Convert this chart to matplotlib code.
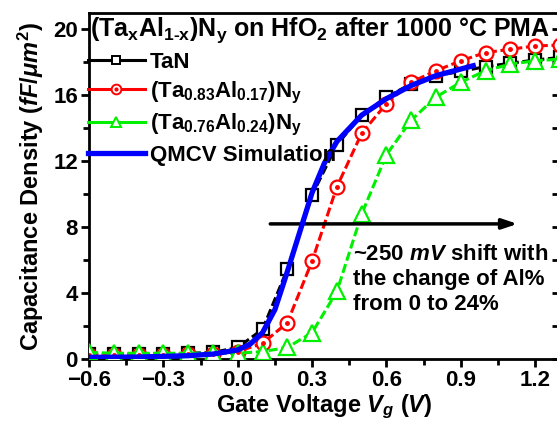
import matplotlib
matplotlib.use("Agg")
import matplotlib.pyplot as plt
from matplotlib.lines import Line2D
from matplotlib.ticker import MultipleLocator

plt.rcParams['font.family'] = ['Liberation Sans', 'DejaVu Sans']
plt.rcParams['font.weight'] = 'bold'
plt.rcParams['mathtext.fontset'] = 'custom'
plt.rcParams['mathtext.rm'] = 'Liberation Sans:bold'
plt.rcParams['mathtext.bf'] = 'Liberation Sans:bold'
plt.rcParams['mathtext.it'] = 'Liberation Sans:bold:italic'
plt.rcParams['mathtext.default'] = 'bf'

# gate voltage sweep (V)
vg = [-0.6, -0.5, -0.4, -0.3, -0.2, -0.1, 0.0, 0.1, 0.2, 0.3,
      0.4, 0.5, 0.6, 0.7, 0.8, 0.9, 1.0, 1.1, 1.2, 1.3]
# measured capacitance density (fF/um^2)
c_tan = [0.3, 0.3, 0.3, 0.3, 0.35, 0.4, 0.7, 1.8, 5.45, 9.95,
         13.0, 14.8, 15.9, 16.7, 17.2, 17.45, 17.75, 17.95, 18.15, 18.3]
c_al17 = [0.25, 0.25, 0.25, 0.25, 0.28, 0.3, 0.45, 0.95, 2.2, 5.95,
          10.45, 13.7, 15.5, 16.8, 17.5, 18.1, 18.6, 18.8, 19.0, 19.05]
c_al24 = [0.4, 0.35, 0.35, 0.35, 0.35, 0.35, 0.35, 0.45, 0.7, 1.6,
          4.1, 8.8, 12.4, 14.5, 15.9, 16.8, 17.5, 17.9, 18.1, 18.2]
# QMCV simulation curve
vg_sim = [-0.6, -0.4, -0.2, -0.1, 0.0, 0.05, 0.1, 0.15, 0.2, 0.25,
          0.3, 0.35, 0.4, 0.5, 0.6, 0.7, 0.8, 0.9, 0.95]
c_sim = [0.1, 0.12, 0.2, 0.3, 0.55, 0.9, 1.6, 3.0, 5.3, 7.7,
         10.1, 11.9, 13.2, 14.8, 15.8, 16.6, 17.2, 17.6, 17.8]

lbls = ['TaN',
        r'(Ta$_{0.83}$Al$_{0.17}$)N$_{y}$',
        r'(Ta$_{0.76}$Al$_{0.24}$)N$_{y}$',
        'QMCV Simulation']

RED = '#ff0000'
GRN = '#00f000'
BLU = '#0000ff'
fs = 16
dash = (0, (3, 1.2))

fig = plt.figure(figsize=(5.57, 4.29), dpi=100)
ax = fig.add_axes([89/557, 70/429, 471/557, 346/429])

ax.plot(vg, c_tan, color='k', ls=dash, lw=2.2, marker='s', ms=8.5,
        mfc='white', mec='k', mew=1.6, zorder=3)
ax.plot(vg, c_al17, color=RED, ls=dash, lw=2.2, marker='o', ms=10,
        mfc='white', mec=RED, mew=1.6, zorder=3)
ax.plot(vg, c_al17, ls='none', marker='o', ms=2.5, color=RED, zorder=4)
ax.plot(vg, c_al24, color=GRN, ls=dash, lw=2.2, marker='^', ms=11,
        mfc='white', mec=GRN, mew=1.6, zorder=3)
ax.plot(vg_sim, c_sim, color=BLU, lw=3.8, zorder=5)

ax.set_xlim(-0.6, 1.3)
ax.set_ylim(0, 21)
ax.xaxis.set_major_locator(MultipleLocator(0.3))
ax.xaxis.set_minor_locator(MultipleLocator(0.15))
ax.yaxis.set_major_locator(MultipleLocator(4))
ax.yaxis.set_minor_locator(MultipleLocator(2))
ax.tick_params(which='both', direction='out', width=2, labelsize=fs, pad=2)
ax.tick_params(which='major', length=6)
ax.tick_params(which='minor', length=4)
for s in ax.spines.values():
    s.set_linewidth(2)

# inward ticks on the right-hand axis
ax_r = ax.secondary_yaxis('right')
ax_r.yaxis.set_major_locator(MultipleLocator(2))
ax_r.tick_params(direction='in', length=6, width=2, labelright=False)

ax.set_xlabel(r'Gate Voltage $\mathit{V_g}$ ($\mathit{V}$)', fontsize=17, fontweight='bold', labelpad=1)
ax.set_ylabel(r'Capacitance Density ($\mathit{fF/\mu m}^{2}$)', fontsize=17, fontweight='bold', labelpad=5)

ax.text(0.003, 0.992, r'(Ta$_{x}$Al$_{1\text{-}x}$)N$_{y}$ on HfO$_{2}$ after 1000 °C PMA',
        transform=ax.transAxes, fontsize=18, fontweight='bold', va='top', ha='left')

# legend handles: solid line with a small marker
h_tan = Line2D([], [], color='k', lw=2.2, marker='s', ms=5.5, mfc='white', mec='k', mew=1.4)
h_17 = (Line2D([], [], color=RED, lw=2.2, marker='o', ms=7, mfc='white', mec=RED, mew=1.4),
        Line2D([], [], ls='none', marker='o', ms=2, color=RED))
h_24 = Line2D([], [], color=GRN, lw=2.2, marker='^', ms=7.5, mfc='white', mec=GRN, mew=1.4)
h_sim = Line2D([], [], color=BLU, lw=3.8)
ax.legend([h_tan, h_17, h_24, h_sim], lbls, loc='upper left', bbox_to_anchor=(-0.003, 0.888),
          frameon=False, fontsize=fs, handlelength=2.6, handletextpad=0.2,
          labelspacing=0.3, borderaxespad=0, borderpad=0)

ax.annotate('', xy=(1.14, 8.2), xytext=(0.12, 8.2),
            arrowprops=dict(arrowstyle='-|>,head_length=0.9,head_width=0.3', lw=2.5, color='k'))
ax.text(0.465, 4.8, '~250 $\\mathit{mV}$ shift with\nthe change of Al%\nfrom 0 to 24%',
        fontsize=fs, fontweight='bold', va='center', ha='left', linespacing=1.25)

fig.savefig('out.png', dpi=100)
